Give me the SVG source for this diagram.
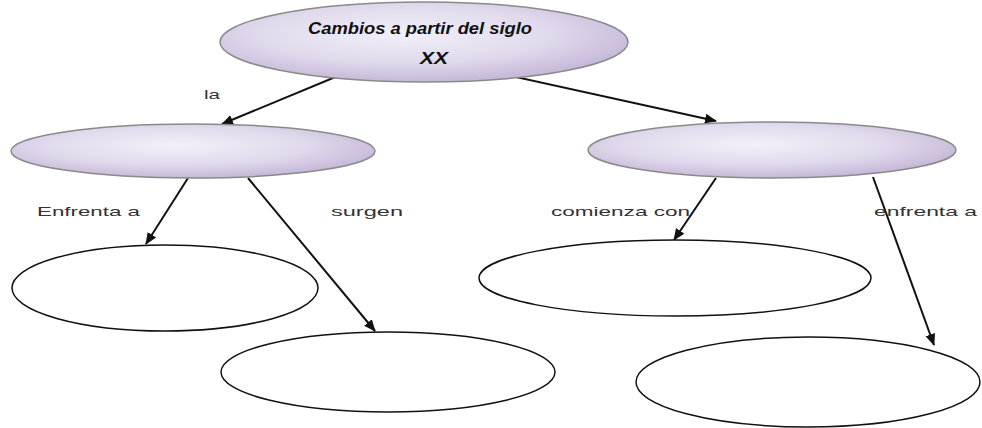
<svg xmlns="http://www.w3.org/2000/svg" width="982" height="428" viewBox="0 0 982 428">
<defs>
<radialGradient id="lav" cx="0.45" cy="0.4" r="0.6">
<stop offset="0" stop-color="#f2f0f8"/>
<stop offset="0.6" stop-color="#e0d9ec"/>
<stop offset="1" stop-color="#c6b8d8"/>
</radialGradient>
<marker id="ah" viewBox="0 0 12 12" refX="11" refY="6" markerWidth="12" markerHeight="12" markerUnits="userSpaceOnUse" orient="auto">
<path d="M0,1 L12,6 L0,11 Z" fill="#111"/>
</marker>
<style>
.lav{fill:url(#lav);stroke:#8a8a8a;stroke-width:1.5}
.wht{fill:#fff;stroke:#111;stroke-width:1.5}
.lbl{font-family:"Liberation Sans",Arial,sans-serif;font-size:13px;fill:#333}
.title{font-family:"Liberation Sans",Arial,sans-serif;font-size:16px;font-weight:bold;font-style:italic;fill:#111}
.con{stroke:#111;stroke-width:2;fill:none;marker-end:url(#ah)}
</style>
</defs>
<rect width="982" height="428" fill="#fff"/>
<g id="connectors">
<line class="con" x1="345" y1="73" x2="222" y2="124"/>
<line class="con" x1="498" y1="73" x2="716" y2="121"/>
<line class="con" x1="188" y1="178" x2="146" y2="244"/>
<line class="con" x1="248" y1="178" x2="375" y2="331"/>
<line class="con" x1="716" y1="178" x2="674" y2="240"/>
<line class="con" x1="873" y1="177" x2="934" y2="345"/>
</g>
<g id="labels">
<text class="lbl" x="204" y="99" textLength="16" lengthAdjust="spacingAndGlyphs">la</text>
<text class="lbl" x="37" y="216" textLength="103" lengthAdjust="spacingAndGlyphs">Enfrenta a</text>
<text class="lbl" x="331" y="216" textLength="72" lengthAdjust="spacingAndGlyphs">surgen</text>
<text class="lbl" x="551" y="216" textLength="139" lengthAdjust="spacingAndGlyphs">comienza con</text>
<text class="lbl" x="874" y="216" textLength="103" lengthAdjust="spacingAndGlyphs">enfrenta a</text>
</g>
<g id="node-root">
<ellipse class="lav" cx="424" cy="42" rx="204" ry="40"/>
<text class="title" x="308" y="34" textLength="224" lengthAdjust="spacingAndGlyphs">Cambios a partir del siglo</text>
<text class="title" x="420" y="64" textLength="28" lengthAdjust="spacingAndGlyphs">XX</text>
</g>
<g id="node-left">
<ellipse class="lav" cx="193" cy="151" rx="182" ry="27"/>
</g>
<g id="node-right">
<ellipse class="lav" cx="772" cy="150" rx="184" ry="28"/>
</g>
<g id="node-left-a">
<ellipse class="wht" cx="165" cy="288" rx="153" ry="43"/>
</g>
<g id="node-left-b">
<ellipse class="wht" cx="388" cy="372" rx="167" ry="40"/>
</g>
<g id="node-right-a">
<ellipse class="wht" cx="675" cy="278" rx="196" ry="38"/>
</g>
<g id="node-right-b">
<ellipse class="wht" cx="808" cy="382" rx="172" ry="45"/>
</g>
</svg>
